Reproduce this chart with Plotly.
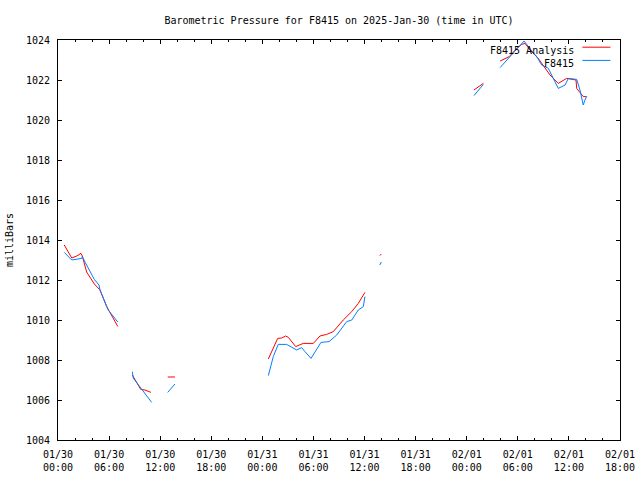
import plotly.graph_objects as go

# F8415 Analysis (red) -- None marks a gap
analysis_times = [
    "2025-01-30 00:44", "2025-01-30 01:37", "2025-01-30 02:12", "2025-01-30 02:42", "2025-01-30 02:51",
    "2025-01-30 03:22", "2025-01-30 04:16", "2025-01-30 04:56", "2025-01-30 05:43", "2025-01-30 07:01",
    "2025-01-30 07:30",
    "2025-01-30 08:44", "2025-01-30 09:43", "2025-01-30 10:13", "2025-01-30 10:55",
    "2025-01-30 11:30",
    "2025-01-30 12:53", "2025-01-30 13:44",
    "2025-01-30 18:00",
    "2025-01-31 00:42", "2025-01-31 01:17", "2025-01-31 01:48", "2025-01-31 02:16", "2025-01-31 02:44",
    "2025-01-31 03:03", "2025-01-31 03:55", "2025-01-31 04:48", "2025-01-31 05:59", "2025-01-31 06:46",
    "2025-01-31 07:33", "2025-01-31 08:20", "2025-01-31 09:30", "2025-01-31 10:30", "2025-01-31 11:16",
    "2025-01-31 12:03",
    "2025-01-31 13:00",
    "2025-01-31 13:48", "2025-01-31 13:58",
    "2025-01-31 18:00",
    "2025-02-01 00:51", "2025-02-01 01:57",
    "2025-02-01 03:00",
    "2025-02-01 03:55", "2025-02-01 05:00", "2025-02-01 05:52", "2025-02-01 06:27", "2025-02-01 06:51",
    "2025-02-01 07:26", "2025-02-01 08:24", "2025-02-01 09:47", "2025-02-01 10:45", "2025-02-01 11:44",
    "2025-02-01 12:50", "2025-02-01 12:55", "2025-02-01 13:41", "2025-02-01 14:05",
]
analysis_values = [
    1013.75, 1013.10, 1013.20, 1013.33, 1013.20,
    1012.40, 1011.80, 1011.50, 1010.67, 1009.68,
    None,
    1007.25, 1006.53, 1006.50, 1006.38,
    None,
    1007.15, 1007.15,
    None,
    1008.05, 1008.58, 1009.08, 1009.10, 1009.20,
    1009.13, 1008.67, 1008.83, 1008.83, 1009.20,
    1009.28, 1009.42, 1010.00, 1010.42, 1010.83,
    1011.38,
    None,
    1013.22, 1013.30,
    None,
    1021.50, 1021.83,
    None,
    1022.95, 1023.17, 1023.58, 1023.78, 1023.83,
    1023.50, 1023.08, 1022.25, 1021.83, 1022.08,
    1022.00, 1021.58, 1021.17, 1021.17,
]

# F8415 observations (blue)
obs_times = [
    "2025-01-30 00:44", "2025-01-30 01:37", "2025-01-30 02:47", "2025-01-30 02:51", "2025-01-30 03:10",
    "2025-01-30 04:16", "2025-01-30 04:49", "2025-01-30 04:56", "2025-01-30 05:54", "2025-01-30 07:01",
    "2025-01-30 07:30",
    "2025-01-30 08:44", "2025-01-30 08:50", "2025-01-30 11:00",
    "2025-01-30 11:30",
    "2025-01-30 12:53", "2025-01-30 13:44",
    "2025-01-30 18:00",
    "2025-01-31 00:42", "2025-01-31 01:17", "2025-01-31 01:52", "2025-01-31 02:51", "2025-01-31 04:02",
    "2025-01-31 04:37", "2025-01-31 05:00", "2025-01-31 05:43", "2025-01-31 06:53", "2025-01-31 07:50",
    "2025-01-31 08:44", "2025-01-31 09:54", "2025-01-31 10:30", "2025-01-31 11:16", "2025-01-31 11:51",
    "2025-01-31 12:03",
    "2025-01-31 13:00",
    "2025-01-31 13:48", "2025-01-31 13:58",
    "2025-01-31 18:00",
    "2025-02-01 00:51", "2025-02-01 01:57",
    "2025-02-01 03:00",
    "2025-02-01 03:55", "2025-02-01 05:05", "2025-02-01 06:15", "2025-02-01 06:44", "2025-02-01 07:14",
    "2025-02-01 08:13", "2025-02-01 08:48", "2025-02-01 09:35", "2025-02-01 10:45", "2025-02-01 11:33",
    "2025-02-01 11:56", "2025-02-01 12:55", "2025-02-01 13:18", "2025-02-01 13:41", "2025-02-01 13:53",
    "2025-02-01 14:05",
]
obs_values = [
    1013.38, 1013.00, 1013.08, 1013.17, 1012.90,
    1012.03, 1011.75, 1011.50, 1010.50, 1009.90,
    None,
    1007.42, 1007.10, 1005.88,
    None,
    1006.38, 1006.80,
    None,
    1007.22, 1008.17, 1008.78, 1008.78, 1008.50,
    1008.62, 1008.42, 1008.08, 1008.88, 1008.92,
    1009.25, 1009.92, 1010.00, 1010.50, 1010.67,
    1011.17,
    None,
    1012.75, 1012.90,
    None,
    1021.22, 1021.78,
    None,
    1022.62, 1023.17, 1023.67, 1023.95, 1023.67,
    1023.17, 1022.75, 1022.58, 1021.58, 1021.75,
    1022.08, 1022.03, 1021.50, 1020.75, 1021.00,
    1021.17,
]

series_names = ["F8415 Analysis", "F8415"]
series_colors = ["#ff0000", "#0080ff"]

FONT = "DejaVu Sans Mono"

fig = go.Figure()
fig.add_trace(go.Scatter(x=analysis_times, y=analysis_values, mode="lines",
                         line=dict(color=series_colors[0], width=1),
                         connectgaps=False, name=series_names[0], showlegend=False))
fig.add_trace(go.Scatter(x=obs_times, y=obs_values, mode="lines",
                         line=dict(color=series_colors[1], width=1),
                         connectgaps=False, name=series_names[1], showlegend=False))

# gnuplot-style legend: text right-aligned, line sample to the right
legend_rows = [0.974, 0.941]
for name, color, yy in zip(series_names, series_colors, legend_rows):
    fig.add_annotation(x=0.921, y=yy, xref="paper", yref="paper", text=name,
                       showarrow=False, xanchor="right", yanchor="middle",
                       font=dict(family=FONT, size=10, color="black"))
    fig.add_shape(type="line", xref="paper", yref="paper",
                  x0=0.933, x1=0.983, y0=yy + 0.008, y1=yy + 0.008,
                  line=dict(color=color, width=1))

axis_common = dict(
    showline=True, linecolor="black", linewidth=1, mirror="allticks",
    ticks="inside", tickcolor="black", ticklen=4, tickwidth=1,
    showgrid=False, zeroline=False,
    tickfont=dict(family=FONT, size=10, color="black"),
)

fig.update_layout(
    width=640, height=480,
    margin=dict(l=58, r=20, t=40, b=40),
    paper_bgcolor="white", plot_bgcolor="white",
    title=dict(text="Barometric Pressure for F8415 on 2025-Jan-30 (time in UTC)",
               x=339 / 640, xanchor="center", y=1 - 20 / 480, yanchor="middle",
               font=dict(family=FONT, size=10, color="black")),
    xaxis=dict(axis_common, type="date",
               range=["2025-01-30 00:00", "2025-02-01 18:00"],
               dtick=6 * 3600 * 1000, tick0="2025-01-30 00:00",
               tickformat="%m/%d<br>%H:%M", ticklabelstandoff=5,
               minor=dict(dtick=2 * 3600 * 1000, ticks="inside", ticklen=2,
                          tickcolor="black", showgrid=False),
               automargin=False),
    yaxis=dict(axis_common, range=[1004, 1024], dtick=2, tick0=1004,
               ticklabelstandoff=5,
               title=dict(text="milliBars", standoff=10,
                          font=dict(family=FONT, size=10, color="black")),
               automargin=False),
)

fig.write_html("out.html")
